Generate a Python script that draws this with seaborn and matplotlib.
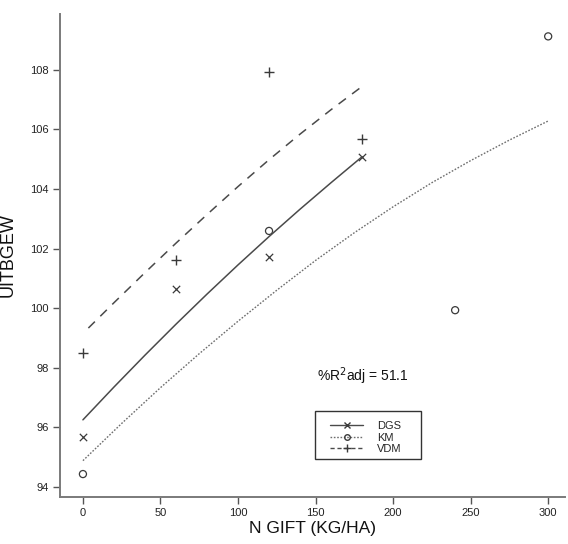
import matplotlib
matplotlib.use("Agg")
import matplotlib.pyplot as plt
from matplotlib.lines import Line2D
from matplotlib.patches import Rectangle
import seaborn as sns
import pandas as pd

# Observed yields per nitrogen dose
dgs_x = [0, 60, 120, 180]
dgs_y = [95.69, 100.65, 101.73, 105.08]
km_x = [0, 120, 240, 300]
km_y = [94.43, 102.59, 99.93, 109.12]
vdm_x = [0, 60, 120, 180]
vdm_y = [98.50, 101.62, 107.92, 105.67]

# Fitted response curves
dgs_fit_x = [0, 20, 40, 60, 80, 100, 120, 140, 160, 180]
dgs_fit_y = [96.25, 97.35, 98.42, 99.46, 100.47, 101.45, 102.40, 103.32, 104.21, 105.08]
km_fit_x = [0, 25, 50, 75, 100, 125, 150, 175, 200, 225, 250, 275, 300]
km_fit_y = [94.88, 96.13, 97.33, 98.47, 99.56, 100.60, 101.60, 102.53, 103.40,
            104.21, 104.95, 105.64, 106.28]
vdm_fit_x = [0, 20, 40, 60, 80, 100, 120, 140, 160, 180]
vdm_fit_y = [99.15, 100.18, 101.19, 102.18, 103.14, 104.08, 104.98, 105.84, 106.66, 107.44]

series = ["DGS", "KM", "VDM"]
r2_adj = 51.1

sns.set_theme(style="white")
plt.rcParams["font.family"] = ["Liberation Sans", "DejaVu Sans"]

fig = plt.figure(figsize=(5.68, 5.44), dpi=100)
ax = fig.add_axes([0.1056, 0.0864, 0.889, 0.8878])

line_col = "#4a4a4a"
dot_col = "#6e6e6e"
mark_col = "#3a3a3a"

fits = pd.DataFrame({
    "x": dgs_fit_x + km_fit_x + vdm_fit_x,
    "y": dgs_fit_y + km_fit_y + vdm_fit_y,
    "s": ["DGS"] * len(dgs_fit_x) + ["KM"] * len(km_fit_x) + ["VDM"] * len(vdm_fit_x),
})

sns.lineplot(data=fits[fits.s == "DGS"], x="x", y="y", ax=ax, color=line_col,
             lw=1.1, estimator=None, sort=True, legend=False)
sns.lineplot(data=fits[fits.s == "KM"], x="x", y="y", ax=ax, color=dot_col,
             lw=1.0, linestyle=(0, (1.2, 1.2)), estimator=None, sort=True, legend=False)
sns.lineplot(data=fits[fits.s == "VDM"], x="x", y="y", ax=ax, color=line_col,
             lw=1.1, linestyle=(6.0, (6, 5)), estimator=None, sort=True, legend=False)

sns.scatterplot(x=dgs_x, y=dgs_y, ax=ax, marker="x", s=28, color=mark_col,
                linewidth=0.9, legend=False)
sns.scatterplot(x=km_x, y=km_y, ax=ax, marker="o", s=26, facecolors="none",
                edgecolor=mark_col, linewidth=0.9, legend=False)
sns.scatterplot(x=vdm_x, y=vdm_y, ax=ax, marker="+", s=48, color=mark_col,
                linewidth=1.0, legend=False)

ax.set_xlim(-14.8, 310.8)
ax.set_ylim(93.66, 109.87)
ax.set_xticks([0, 50, 100, 150, 200, 250, 300])
ax.set_yticks([94, 96, 98, 100, 102, 104, 106, 108])

for side in ["top", "right"]:
    ax.spines[side].set_visible(False)
for side in ["left", "bottom"]:
    ax.spines[side].set_color("#7a7a7a")
    ax.spines[side].set_linewidth(1.4)

ax.tick_params(axis="both", which="major", direction="out", length=5, width=1.0,
               color="#555555", labelsize=8, labelcolor="#222222", pad=3,
               left=True, bottom=True)

ax.set_xlabel("N GIFT (KG/HA)", fontsize=12.5, color="#111111", labelpad=2)
ax.set_ylabel("UITBGEW", fontsize=13, color="#111111", labelpad=10)

ax.text(0.60, 0.25, r"%R$^{2}$adj = " + f"{r2_adj}", transform=ax.transAxes,
        ha="center", va="center", fontsize=10, color="#111111")

# Legend: entries without a frame, boxed by a separate rectangle
handles = [
    Line2D([], [], color=line_col, lw=1.0, marker="x", markersize=4,
           markeredgecolor=mark_col),
    Line2D([], [], color=dot_col, lw=1.0, linestyle=(0, (1.2, 1.2)), marker="o",
           markersize=4, markerfacecolor="none", markeredgecolor=mark_col),
    Line2D([], [], color=line_col, lw=1.0, linestyle=(0, (3, 2)), marker="+",
           markersize=6, markeredgecolor=mark_col),
]
ax.legend(handles, series, loc="center left", bbox_to_anchor=(0.535, 0.123),
          fontsize=8, frameon=False, handlelength=3.0, labelspacing=0.12,
          borderpad=0, handletextpad=1.2, borderaxespad=0, numpoints=1)
ax.add_patch(Rectangle((0.505, 0.0787), 0.21, 0.0993, transform=ax.transAxes,
                       facecolor="none", edgecolor="#333333", lw=1.0, zorder=5))

fig.savefig("out.png", dpi=100)
